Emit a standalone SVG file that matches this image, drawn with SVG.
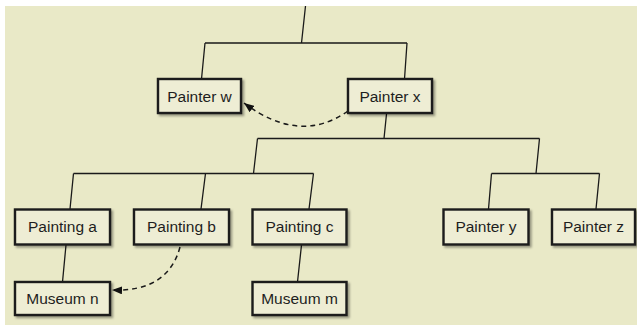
<svg xmlns="http://www.w3.org/2000/svg" width="637" height="325" viewBox="0 0 637 325">
  <style>
    .box { fill: #eeedd4; stroke: #1a1a1a; stroke-width: 2.4; filter: url(#shadow); }
    .lbl { font-family: "Liberation Sans", Arial, sans-serif; font-size: 15.5px; fill: #1e1e1e; text-anchor: middle; }
    .tree { fill: none; stroke: #1a1a1a; stroke-width: 1.3; }
    .ref { fill: none; stroke: #1a1a1a; stroke-width: 1.5; stroke-dasharray: 5 4; }
  </style>
  <defs>
    <filter id="shadow" x="-10%" y="-20%" width="130%" height="160%">
      <feDropShadow dx="2" dy="2" stdDeviation="1.2" flood-color="#000" flood-opacity="0.35"/>
    </filter>
    <marker id="arrow" viewBox="0 0 10 8" refX="10" refY="4" markerWidth="10" markerHeight="8" markerUnits="userSpaceOnUse" orient="auto">
      <path d="M0,0 L10,4 L0,8 Z" fill="#111"/>
    </marker>
  </defs>

  <!-- canvas -->
  <rect x="0" y="0" width="637" height="325" fill="#ffffff"/>
  <rect x="5" y="6" width="632" height="319" fill="#e9e9c7"/>

  <!-- tree connectors and dashed references -->
  <g id="connectors">
    <path class="tree" d="M305.5,6 L301.5,43 M205,43 L407,43 M205,43 L201.5,79 M407,43 L404.5,79"/>
    <path class="tree" d="M386.5,114 L384,138.5 M257.5,138.5 L539.5,138.5"/>
    <path class="tree" d="M257.5,138.5 L253.5,173.5 M73.5,173.5 L313.5,173.5 M73.5,173.5 L70,209 M205.5,173.5 L201,209 M313.5,173.5 L309,209"/>
    <path class="tree" d="M539.5,138.5 L536,173.5 M491.5,173.5 L599.5,173.5 M491.5,173.5 L488.5,209 M599.5,173.5 L596,209"/>
    <path class="tree" d="M66,245 L62.5,282 M301.5,245 L297.5,282"/>
    <path class="ref" d="M348,111 Q300,145 244,103" marker-end="url(#arrow)"/>
    <path class="ref" d="M180,247 Q168,292 112,290" marker-end="url(#arrow)"/>
  </g>

  <g id="painter-w">
    <rect class="box" x="158" y="79" width="83" height="34"/>
    <text class="lbl" x="199.5" y="101.5">Painter w</text>
  </g>
  <g id="painter-x">
    <rect class="box" x="348" y="79" width="84" height="34"/>
    <text class="lbl" x="390" y="101.5">Painter x</text>
  </g>
  <g id="painting-a">
    <rect class="box" x="15" y="209.5" width="95" height="35"/>
    <text class="lbl" x="62.5" y="232">Painting a</text>
  </g>
  <g id="painting-b">
    <rect class="box" x="134" y="209.5" width="95" height="35"/>
    <text class="lbl" x="181.5" y="232">Painting b</text>
  </g>
  <g id="painting-c">
    <rect class="box" x="252.5" y="209.5" width="94" height="35"/>
    <text class="lbl" x="299.5" y="232">Painting c</text>
  </g>
  <g id="painter-y">
    <rect class="box" x="443.5" y="209.5" width="85" height="35"/>
    <text class="lbl" x="486" y="232">Painter y</text>
  </g>
  <g id="painter-z">
    <rect class="box" x="552" y="209.5" width="83" height="35"/>
    <text class="lbl" x="593.5" y="232">Painter z</text>
  </g>
  <g id="museum-n">
    <rect class="box" x="15" y="282" width="95" height="33"/>
    <text class="lbl" x="62.5" y="303.5">Museum n</text>
  </g>
  <g id="museum-m">
    <rect class="box" x="252.5" y="282" width="94" height="33"/>
    <text class="lbl" x="299.5" y="303.5">Museum m</text>
  </g>
</svg>
